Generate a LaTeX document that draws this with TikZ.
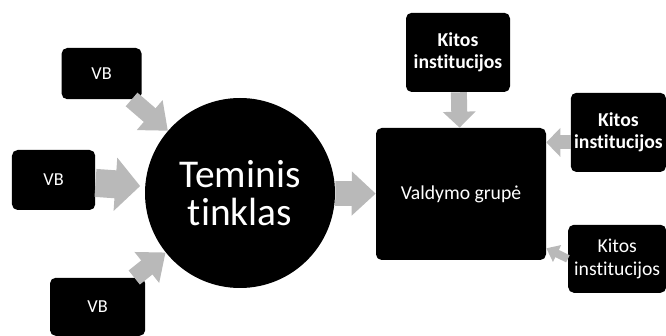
\documentclass[tikz,border=0pt]{standalone}
\usepackage{fontspec}
\setmainfont{Carlito}[Ligatures=NoCommon]
\usepackage{tikz}
\usetikzlibrary{arrows.meta}
\usetikzlibrary{positioning}

\begin{document}
\begin{tikzpicture}
  \tikzset{box/.style={rectangle, rounded corners=4pt, fill=black, text=white, align=center, inner sep=0pt},
           hub/.style={circle, fill=black, text=white, align=center, inner sep=0pt},
           blockarrow/.style n args={3}{draw=gray!55, line width=#1, -{Triangle[length=#2, width=#3, fill=gray!55]}}}

  \useasboundingbox (0,0) rectangle (16.65,8.4);

  % the three VB boxes on the left
  \node[box, minimum width=2.0cm,  minimum height=1.28cm, font=\fontsize{13}{14}\selectfont] (vb1) at (2.54,6.56) {VB};
  \node[box, minimum width=2.08cm, minimum height=1.5cm,  font=\fontsize{13}{14}\selectfont] (vb2) at (1.34,3.9)  {VB};
  \node[box, minimum width=2.38cm, minimum height=1.45cm, font=\fontsize{13}{14}\selectfont] (vb3) at (2.44,0.73) {VB};

  % thematic network and the steering group
  \node[hub, minimum size=4.75cm, font=\fontsize{28}{27}\selectfont] (tt) at (6.0,3.575) {Teminis\\tinklas};
  \node[box, minimum width=4.25cm, minimum height=3.3cm, font=\fontsize{14}{16}\selectfont] (vg) at (11.525,3.55) {Valdymo grupė};

  % other institutions
  \node[box, minimum width=2.6cm,  minimum height=1.98cm, font=\fontsize{14}{16}\selectfont\bfseries] (ki1) at (11.45,7.09) {Kitos\\institucijos};
  \node[box, minimum width=2.38cm, minimum height=1.98cm, font=\fontsize{14}{16}\selectfont\bfseries] (ki2) at (15.46,5.09) {Kitos\\institucijos};
  \node[box, minimum width=2.45cm, minimum height=1.7cm,  font=\fontsize{14}{16}\selectfont] (ki3) at (15.43,1.93) {Kitos\\institucijos};

  % arrows into the network
  \draw[blockarrow={0.45cm}{0.6cm}{0.95cm}] (vb1) -- (tt);
  \draw[blockarrow={0.7cm}{0.62cm}{1.3cm}, shorten >=0.12cm] (vb2) -- (tt);
  \draw[blockarrow={0.45cm}{0.6cm}{0.95cm}] (vb3) -- (tt);
  \draw[blockarrow={0.62cm}{0.6cm}{1.07cm}] (tt) -- (vg);

  % arrows into the steering group
  \draw[blockarrow={0.4cm}{0.4cm}{0.8cm}] (ki1) -- (vg);
  \draw[blockarrow={0.35cm}{0.35cm}{0.7cm}] ([yshift=-0.25cm]ki2.west) -- ([yshift=-0.25cm]ki2.west -| vg.east);
  \draw[blockarrow={0.2cm}{0.3cm}{0.45cm}] (ki3.west) -- ([yshift=0.3cm]vg.south east);
\end{tikzpicture}
\end{document}
